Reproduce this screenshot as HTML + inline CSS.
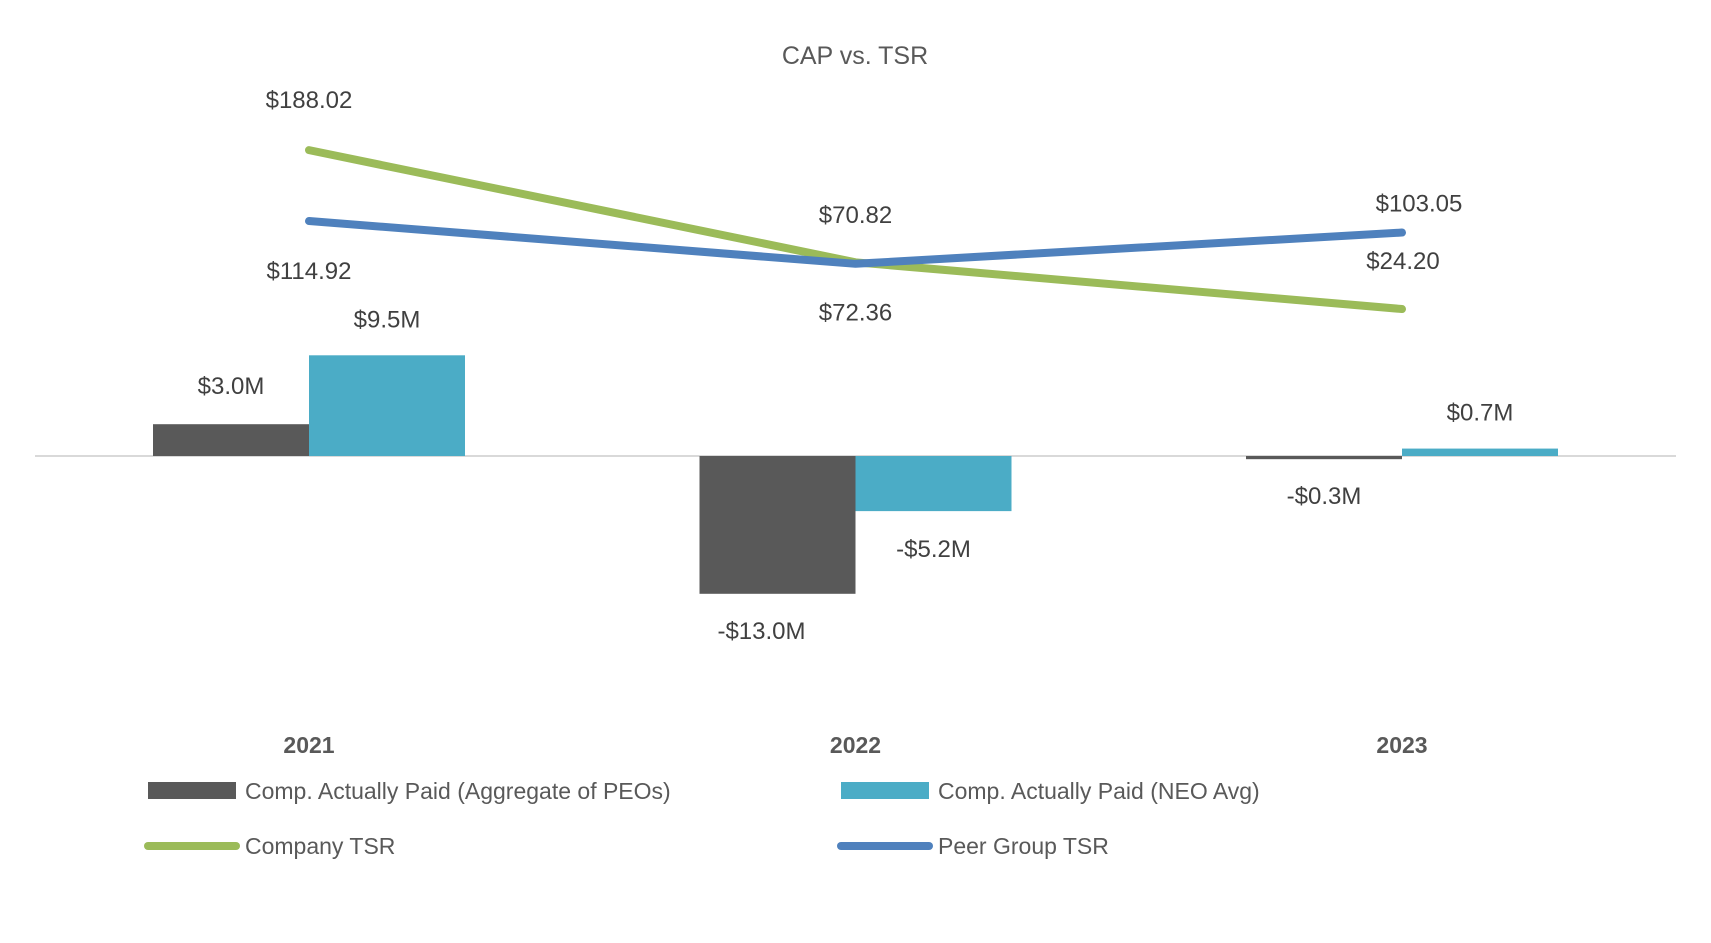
<!DOCTYPE html>
<html><head><meta charset="utf-8"><style>
html,body{margin:0;padding:0;background:#fff;}
svg{display:block;font-family:"Liberation Sans",sans-serif;}
</style></head><body>
<svg id="chart" width="1711" height="943">
<text x="855" y="64" text-anchor="middle" font-size="25" fill="#595959">CAP vs. TSR</text>
<line x1="35" y1="456" x2="1676" y2="456" stroke="#d9d9d9" stroke-width="2"/>
<g id="bars"></g><g id="lines"></g><g id="labels"></g>
<g>
<rect x="148" y="782" width="88" height="17" fill="#595959"/>
<text x="245" y="799" font-size="23" fill="#595959">Comp. Actually Paid (Aggregate of PEOs)</text>
<rect x="841" y="782" width="88" height="17" fill="#4bacc6"/>
<text x="938" y="799" font-size="23" fill="#595959">Comp. Actually Paid (NEO Avg)</text>
<line x1="148" y1="846" x2="236" y2="846" stroke="#9bbb59" stroke-width="8" stroke-linecap="round"/>
<text x="245" y="854" font-size="23" fill="#595959">Company TSR</text>
<line x1="841" y1="846" x2="929" y2="846" stroke="#4f81bd" stroke-width="8" stroke-linecap="round"/>
<text x="938" y="854" font-size="23" fill="#595959">Peer Group TSR</text>
</g>
</svg>
<script>
const years=["2021","2022","2023"];
const peoCap=[3.0,-13.0,-0.3];
const neoCap=[9.5,-5.2,0.7];
const companyTsr=[188.02,72.36,24.20];
const peerTsr=[114.92,70.82,103.05];
const peoLabels=["$3.0M","-$13.0M","-$0.3M"];
const neoLabels=["$9.5M","-$5.2M","$0.7M"];
const companyLabels=["$188.02","$72.36","$24.20"];
const peerLabels=["$114.92","$70.82","$103.05"];

const NS="http://www.w3.org/2000/svg";
const xC=i=>309+i*546.5;
const yBar=v=>456-v*10.6;
const yLine=v=>332.5-v*0.97;
const BW=156;
const companyDy=[-42,58,-40], companyDx=[0,0,1];
const peerDy=[58,-41,-21], peerDx=[0,0,17];
function mk(tag,attrs,parent,txt){const e=document.createElementNS(NS,tag);for(const k in attrs)e.setAttribute(k,attrs[k]);if(txt!==undefined)e.textContent=txt;document.getElementById(parent).appendChild(e);return e;}
const z=yBar(0);
years.forEach((y,i)=>{
  const a=yBar(peoCap[i]);
  const r1=mk('rect',{x:xC(i)-BW,y:Math.min(a,z),width:BW,height:Math.max(1.5,Math.abs(a-z)),fill:'#595959'},'bars');
  
  
  const b=yBar(neoCap[i]);
  const r2=mk('rect',{x:xC(i),y:Math.min(b,z),width:BW,height:Math.max(1.5,Math.abs(b-z)),fill:'#4bacc6'},'bars');
  
  
  const t=mk('text',{x:xC(i),y:753,'text-anchor':'middle','font-size':23,'font-weight':'bold',fill:'#595959'},'labels',y);
  
  
  const pl=mk('text',{x:xC(i)-BW/2-(i==1?16:0),y:peoCap[i]>=0?a-30:a+45,'text-anchor':'middle','font-size':24,fill:'#404040'},'labels',peoLabels[i]);
  
  
  const nl=mk('text',{x:xC(i)+BW/2,y:neoCap[i]>=0?b-28:b+46,'text-anchor':'middle','font-size':24,fill:'#404040'},'labels',neoLabels[i]);
  
  
});
function path(arr){return arr.map((v,i)=>(i?'L':'M')+xC(i)+' '+yLine(v)).join(' ');}
const cl=mk('path',{d:path(companyTsr),stroke:'#9bbb59','stroke-width':8,fill:'none','stroke-linecap':'round','stroke-linejoin':'round'},'lines');


const pl=mk('path',{d:path(peerTsr),stroke:'#4f81bd','stroke-width':8,fill:'none','stroke-linecap':'round','stroke-linejoin':'round'},'lines');


years.forEach((y,i)=>{
  const c=mk('text',{x:xC(i)+companyDx[i],y:yLine(companyTsr[i])+companyDy[i],'text-anchor':'middle','font-size':24,fill:'#404040'},'labels',companyLabels[i]);
  
  
  const p=mk('text',{x:xC(i)+peerDx[i],y:yLine(peerTsr[i])+peerDy[i],'text-anchor':'middle','font-size':24,fill:'#404040'},'labels',peerLabels[i]);
  
  
});
</script>
</body></html>
